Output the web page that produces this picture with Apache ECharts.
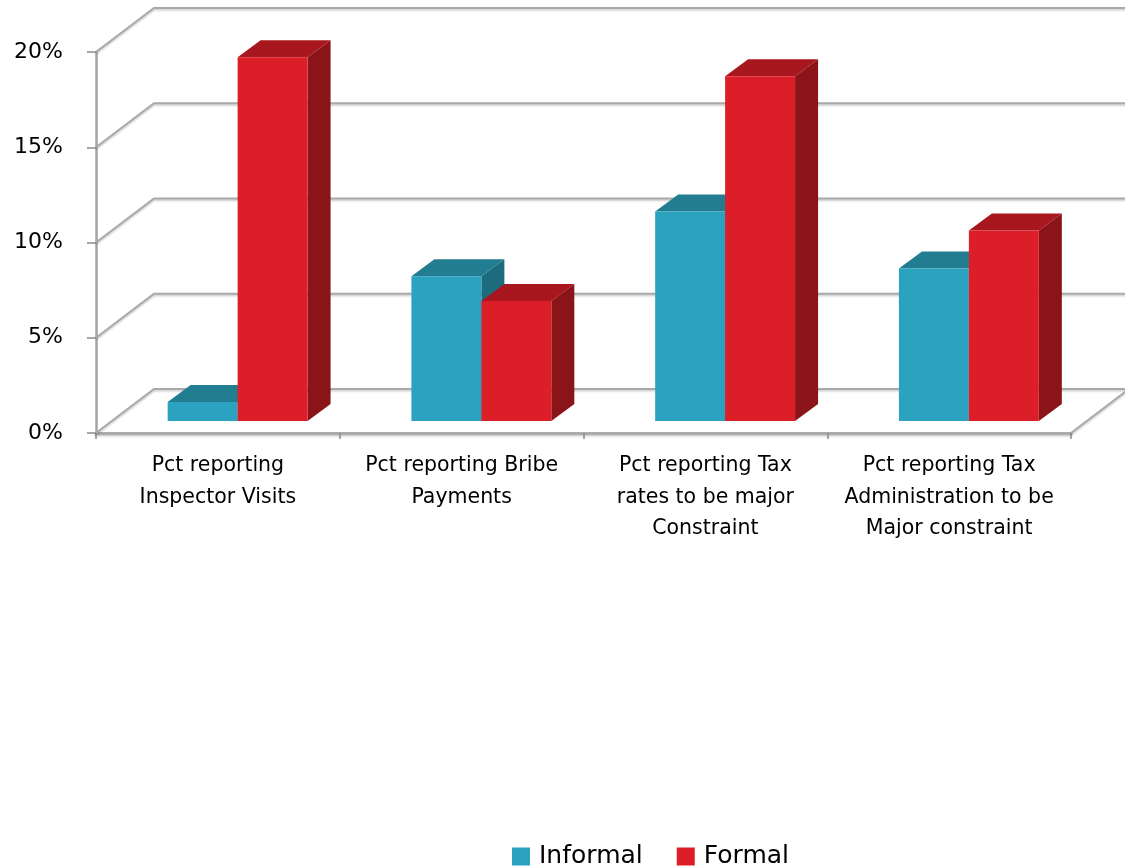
<!DOCTYPE html>
<html>
<head>
<meta charset="utf-8">
<script src="https://cdn.jsdelivr.net/npm/echarts/dist/echarts.min.js"></script>
<style>
  html, body { margin: 0; padding: 0; background: #ffffff; }
  #chart { width: 1125px; height: 867px; }
</style>
</head>
<body>
<div id="chart"></div>
<script>
// Survey results: share of firms reporting each issue
const categories = [
  'Pct reporting\nInspector Visits',
  'Pct reporting Bribe\nPayments',
  'Pct reporting Tax\nrates to be major\nConstraint',
  'Pct reporting Tax\nAdministration to be\nMajor constraint'
];
const seriesNames = ['Informal', 'Formal'];
const informal = [1.0, 7.6, 11.0, 8.0];
const formal = [19.1, 6.3, 18.1, 10.0];
const yTicks = [0, 5, 10, 15, 20];

// Oblique projection used for the 3D look
const WALL_DX = 58, WALL_DY = -44;   // depth of floor / back wall
const BAR_FY = -12;                  // bar front face sits a bit behind the floor edge
const BAR_DX = 23, BAR_DY = -17;     // bar depth

const palette = {
  Informal: { front: '#2ba2c0', top: '#237d90', side: '#1d6c7d' },
  Formal:   { front: '#dc1e29', top: '#a8161e', side: '#8b1419' }
};

const gridLineStyle = {
  stroke: '#a9a9a9',
  lineWidth: 2,
  fill: null,
  shadowBlur: 2,
  shadowOffsetY: 1.5,
  shadowColor: 'rgba(0,0,0,0.22)'
};

function renderWall(params, api) {
  const v = api.value(1);
  const y = api.coord([0, v])[1];
  const cs = params.coordSys;
  const x0 = cs.x, x1 = cs.x + cs.width;
  const children = [{
    type: 'polyline',
    shape: { points: [[x0, y], [x0 + WALL_DX, y + WALL_DY], [x1 + WALL_DX + 20, y + WALL_DY]] },
    style: gridLineStyle,
    silent: true
  }];
  if (v === 0) {
    children.push({
      type: 'line',
      shape: { x1: x1, y1: y, x2: x1 + WALL_DX, y2: y + WALL_DY },
      style: gridLineStyle,
      silent: true
    });
  }
  return { type: 'group', children: children };
}

function makeBarRenderer(name, leftSide) {
  const col = palette[name];
  return function (params, api) {
    const i = api.value(0), v = api.value(1);
    const band = api.size([1, 0])[0];
    const w = band * 0.287;
    const fx = band * 0.081;
    const base = api.coord([i, 0]);
    const top = api.coord([i, v]);
    const xa = base[0] + fx - (leftSide ? w : 0);
    const xb = xa + w;
    const yb = base[1] + BAR_FY;
    const yt = top[1] + BAR_FY;
    return {
      type: 'group',
      children: [
        { type: 'polygon',
          shape: { points: [[xb, yb], [xb + BAR_DX, yb + BAR_DY], [xb + BAR_DX, yt + BAR_DY], [xb, yt]] },
          style: { fill: col.side } },
        { type: 'polygon',
          shape: { points: [[xa, yt], [xb, yt], [xb + BAR_DX, yt + BAR_DY], [xa + BAR_DX, yt + BAR_DY]] },
          style: { fill: col.top } },
        { type: 'rect',
          shape: { x: xa, y: yt, width: w, height: yb - yt },
          style: { fill: col.front } }
      ]
    };
  };
}

const chart = echarts.init(document.getElementById('chart'), null, { renderer: 'canvas' });

chart.setOption({
  animation: false,
  backgroundColor: '#ffffff',
  grid: { left: 96, right: 54, top: 52, bottom: 434 },
  legend: {
    data: seriesNames.map(n => ({ name: n, icon: 'rect' })),
    left: 512,
    top: 844,
    padding: 0,
    itemWidth: 18,
    itemHeight: 18,
    itemGap: 34,
    textStyle: { fontFamily: 'DejaVu Sans', fontSize: 25, color: '#000', padding: [0, 0, 0, 4] }
  },
  xAxis: {
    type: 'category',
    data: categories,
    boundaryGap: true,
    axisLine: { show: true, lineStyle: { color: '#ababab', width: 3,
      shadowBlur: 2, shadowOffsetY: 1.5, shadowColor: 'rgba(0,0,0,0.2)' } },
    axisTick: { show: true, length: 6, lineStyle: { color: '#8c8c8c', width: 1.5 } },
    axisLabel: {
      interval: 0,
      margin: 17,
      fontFamily: 'DejaVu Sans',
      fontSize: 20.5,
      lineHeight: 31.5,
      color: '#000',
      align: 'center'
    },
    splitLine: { show: false }
  },
  yAxis: {
    type: 'value',
    min: 0,
    max: 20,
    interval: 5,
    axisLine: { show: true, lineStyle: { color: '#a3a3a3', width: 2.5 } },
    axisTick: { show: true, length: 9, lineStyle: { color: '#8c8c8c', width: 1.5 } },
    axisLabel: {
      formatter: '{value}%',
      margin: 33,
      fontFamily: 'DejaVu Sans',
      fontSize: 22,
      color: '#000'
    },
    splitLine: { show: false }
  },
  series: [
    {
      type: 'custom',
      name: 'walls',
      clip: false,
      silent: true,
      z: 1,
      renderItem: renderWall,
      data: yTicks.map(v => [0, v])
    },
    {
      type: 'custom',
      name: 'Informal',
      clip: false,
      z: 2,
      itemStyle: { color: palette.Informal.front },
      renderItem: makeBarRenderer('Informal', true),
      data: informal.map((v, i) => [i, v])
    },
    {
      type: 'custom',
      name: 'Formal',
      clip: false,
      z: 3,
      itemStyle: { color: palette.Formal.front },
      renderItem: makeBarRenderer('Formal', false),
      data: formal.map((v, i) => [i, v])
    }
  ]
});
</script>
</body>
</html>
